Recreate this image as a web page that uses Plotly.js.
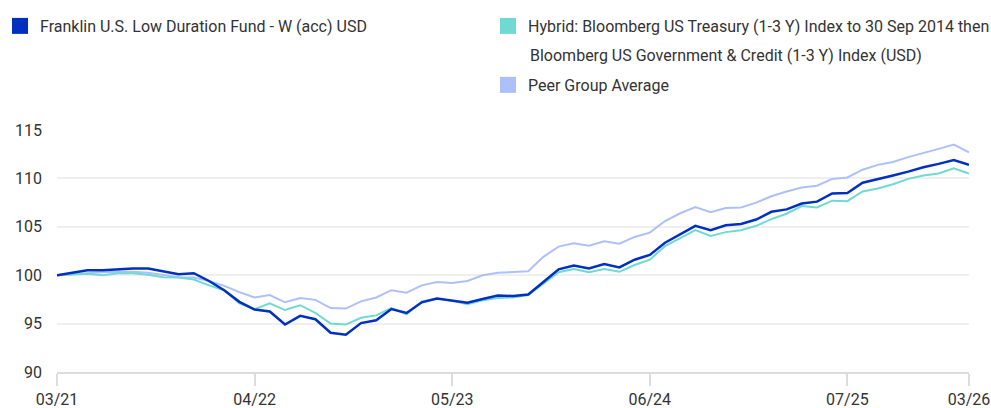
<!DOCTYPE html>
<html>
<head>
<meta charset="utf-8">
<script src="https://cdn.plot.ly/plotly-3.0.1.min.js"></script>
<style>
  html, body { margin: 0; padding: 0; background: #ffffff; }
  #chart { width: 991px; height: 408px; }
</style>
</head>
<body>
<div id="chart"></div>
<script>
// ---- data ----
var months = [
  "03/21","04/21","05/21","06/21","07/21","08/21","09/21","10/21","11/21","12/21",
  "01/22","02/22","03/22","04/22","05/22","06/22","07/22","08/22","09/22","10/22",
  "11/22","12/22","01/23","02/23","03/23","04/23","05/23","06/23","07/23","08/23",
  "09/23","10/23","11/23","12/23","01/24","02/24","03/24","04/24","05/24","06/24",
  "07/24","08/24","09/24","10/24","11/24","12/24","01/25","02/25","03/25","04/25",
  "05/25","06/25","07/25","08/25","09/25","10/25","11/25","12/25","01/26","02/26",
  "03/26"
];
var tickLabels = ["03/21","04/22","05/23","06/24","07/25","03/26"];

var fundName = "Franklin U.S. Low Duration Fund - W (acc) USD";
var benchNameLine1 = "Hybrid: Bloomberg US Treasury (1-3 Y) Index to 30 Sep 2014 then";
var benchNameLine2 = "Bloomberg US Government & Credit (1-3 Y) Index (USD)";
var peerName = "Peer Group Average";

var fund = [
  100, 100.25, 100.5, 100.5, 100.6, 100.7, 100.7, 100.4, 100.1, 100.2,
  99.4, 98.45, 97.25, 96.45, 96.25, 94.9, 95.8, 95.45, 94.05, 93.85,
  95.05, 95.35, 96.5, 96.1, 97.2, 97.6, 97.4, 97.15, 97.55, 97.9,
  97.85, 98.0, 99.3, 100.6, 101.0, 100.7, 101.15, 100.8, 101.6, 102.1,
  103.35, 104.2, 105.1, 104.65, 105.15, 105.3, 105.75, 106.55, 106.8, 107.4,
  107.6, 108.45, 108.5, 109.55, 109.9, 110.3, 110.7, 111.15, 111.5, 111.9,
  111.4
];
var bench = [
  100, 100.1, 100.15, 100.0, 100.2, 100.2, 100.05, 99.8, 99.75, 99.55,
  98.95, 98.45, 97.1, 96.5, 97.1, 96.4, 96.9, 96.1, 95.0, 94.9,
  95.6, 95.85, 96.6, 95.95, 97.3, 97.6, 97.35, 97.0, 97.4, 97.65,
  97.7, 97.95, 99.15, 100.3, 100.65, 100.3, 100.65, 100.35, 101.05, 101.6,
  103.0, 103.85, 104.65, 104.05, 104.45, 104.65, 105.1, 105.8, 106.35, 107.15,
  107.0, 107.7, 107.65, 108.65, 108.95, 109.4, 109.95, 110.3, 110.5, 111.05,
  110.5
];
var peer = [
  100, 100.1, 100.25, 100.3, 100.35, 100.35, 100.25, 100.0, 99.8, 99.75,
  99.4, 98.9, 98.25, 97.7, 97.95, 97.2, 97.65, 97.45, 96.6, 96.55,
  97.3, 97.7, 98.45, 98.2, 98.95, 99.3, 99.2, 99.4, 100.0, 100.25,
  100.35, 100.4, 101.9, 102.95, 103.3, 103.05, 103.5, 103.25, 103.95, 104.4,
  105.6, 106.4, 107.05, 106.5, 106.95, 107.0, 107.5, 108.15, 108.65, 109.05,
  109.25, 109.95, 110.1, 110.9, 111.4, 111.7, 112.2, 112.6, 113.05, 113.5,
  112.7
];

// ---- styles ----
var cFund = "#0030be", cBench = "#6fd9d2", cPeer = "#aec0f9";
var FONT = "Roboto, 'Liberation Sans', sans-serif";
var FS = 16;
var TXT = "#333333";
var W = 991, H = 408;
var M = { l: 57, r: 22, t: 130, b: 36 };

function lineTrace(y, color, width) {
  return { type: "scatter", mode: "lines", x: months, y: y,
    line: { color: color, width: width }, showlegend: false, hoverinfo: "skip" };
}
function legendTrace(name, color, legendId) {
  return { type: "scatter", mode: "markers", x: [months[0]], y: [null], name: name,
    marker: { symbol: "square", size: 16, color: color }, showlegend: true, legend: legendId,
    hoverinfo: "skip" };
}

var traces = [
  lineTrace(peer, cPeer, 2),
  lineTrace(bench, cBench, 2),
  lineTrace(fund, cFund, 2.5),
  legendTrace(fundName, cFund, "legend"),
  legendTrace(benchNameLine1, cBench, "legend2"),
  legendTrace(peerName, cPeer, "legend3")
];

function leg(xpx, ypx) {
  return {
    xref: "container", yref: "container", xanchor: "left", yanchor: "top",
    x: xpx / W, y: 1 - ypx / H,
    bgcolor: "rgba(0,0,0,0)", borderwidth: 0, valign: "middle",
    font: { family: FONT, size: FS, color: TXT }
  };
}

var plotW = W - M.l - M.r, plotH = H - M.t - M.b;

var layout = {
  width: W, height: H,
  margin: { l: M.l, r: M.r, t: M.t, b: M.b, autoexpand: false },
  paper_bgcolor: "#ffffff", plot_bgcolor: "#ffffff",
  font: { family: FONT, size: FS, color: TXT },
  showlegend: true,
  legend: leg(0, 9),
  legend2: leg(488, 9),
  legend3: leg(488, 68),
  annotations: [{
    xref: "paper", yref: "paper",
    x: (528 - M.l) / plotW, y: (H - M.b - 56) / plotH,
    xanchor: "left", yanchor: "middle", showarrow: false,
    text: benchNameLine2, font: { family: FONT, size: FS, color: TXT }
  }],
  xaxis: {
    type: "category", range: [0, months.length - 1], autorange: false,
    tickmode: "array", tickvals: tickLabels, ticktext: tickLabels,
    showgrid: false, showline: true, linecolor: "#dcdcdc", linewidth: 2,
    ticks: "outside", ticklen: 12, tickwidth: 2, tickcolor: "#dcdcdc",
    tickfont: { family: FONT, size: FS, color: TXT }, zeroline: false, fixedrange: true
  },
  yaxis: {
    range: [90, 115], autorange: false, tickmode: "linear", tick0: 90, dtick: 5,
    showgrid: true, gridcolor: "#efefef", gridwidth: 2,
    showline: false, zeroline: false, ticks: "", ticklabelstandoff: 14,
    tickfont: { family: FONT, size: FS, color: TXT }, fixedrange: true
  }
};

Plotly.newPlot("chart", traces, layout, { displayModeBar: false, staticPlot: true });
</script>
</body>
</html>
